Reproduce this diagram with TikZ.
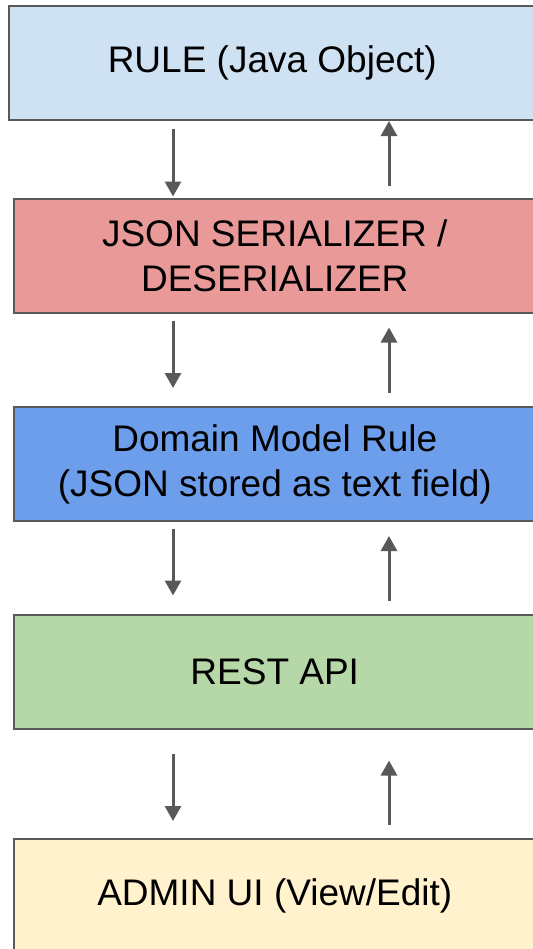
\documentclass[tikz,border=0pt]{standalone}
\usepackage{fontspec}
\setmainfont{Liberation Sans}
\usetikzlibrary{arrows.meta}
\definecolor{bordergray}{HTML}{595959}
\definecolor{arrowgray}{HTML}{595959}
\definecolor{c1}{HTML}{CFE2F3}
\definecolor{c2}{HTML}{EA9999}
\definecolor{c3}{HTML}{6D9EEB}
\definecolor{c4}{HTML}{B6D7A8}
\definecolor{c5}{HTML}{FFF2CC}
\tikzset{
  layerbox/.style={draw=bordergray, line width=2bp, rectangle, inner sep=0pt,
    minimum height=114bp, align=center, text=black,
    font=\fontsize{37bp}{45bp}\selectfont},
  arr/.style={draw=arrowgray, line width=3bp,
    -{Triangle[width=16bp,length=15bp]}}
}
\begin{document}
\begin{tikzpicture}[x=1bp,y=-1bp]
\useasboundingbox (0,0) rectangle (533,949);
\clip (0,0) rectangle (533,949);
\fill[white] (0,0) rectangle (533,949);
\node[layerbox, fill=c1, minimum width=527bp] (rule) at (272.25,63) {RULE (Java Object)};
\node[layerbox, fill=c2, minimum width=522bp] (json) at (274.75,255.5) {JSON SERIALIZER /\\DESERIALIZER};
\node[layerbox, fill=c3, minimum width=522bp] (dom) at (274.75,464) {Domain Model Rule\\(JSON stored as text field)};
\node[layerbox, fill=c4, minimum width=522bp] (rest) at (274.75,671.5) {REST API};
\node[layerbox, fill=c5, minimum width=522bp] (admin) at (274.75,896) {ADMIN UI (View/Edit)};
\coordinate (dx) at (173,0);
\coordinate (ux) at (389,0);
% down arrows
\draw[arr] ([yshift=-8bp]rule.south -| dx) -- ([yshift=1bp]json.north -| dx);
\draw[arr] ([yshift=-7bp]json.south -| dx) -- ([yshift=18bp]dom.north -| dx);
\draw[arr] ([yshift=-7bp]dom.south -| dx) -- ([yshift=18bp]rest.north -| dx);
\draw[arr] ([yshift=-24bp]rest.south -| dx) -- ([yshift=17bp]admin.north -| dx);
% up arrows
\draw[arr] ([yshift=12bp]json.north -| ux) -- (rule.south -| ux);
\draw[arr] ([yshift=13bp]dom.north -| ux) -- ([yshift=-14bp]json.south -| ux);
\draw[arr] ([yshift=13bp]rest.north -| ux) -- ([yshift=-14bp]dom.south -| ux);
\draw[arr] ([yshift=13bp]admin.north -| ux) -- ([yshift=-31bp]rest.south -| ux);
\end{tikzpicture}
\end{document}
